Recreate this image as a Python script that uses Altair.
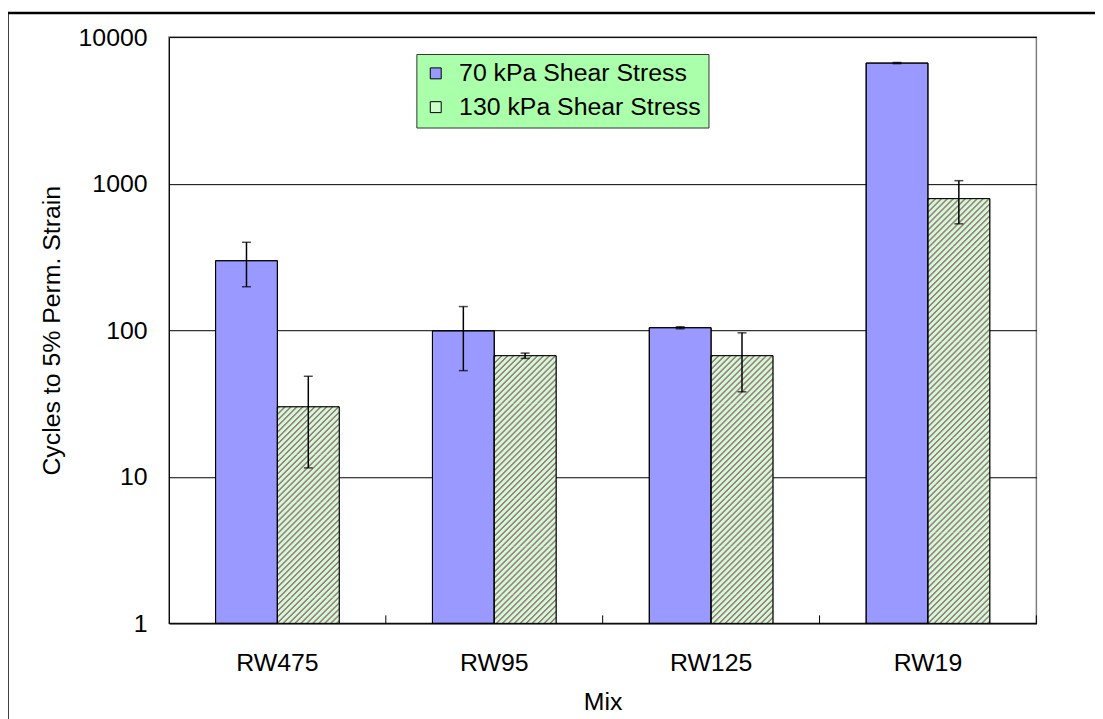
import altair as alt
import numpy as np
import pandas as pd

# ---------------- data ----------------
mixes = ["RW475", "RW95", "RW125", "RW19"]
series = ["70 kPa Shear Stress", "130 kPa Shear Stress"]
cycles_70 = [298, 99, 104, 6650]
err_70 = [100, 46, 1.5, 60]
cycles_130 = [30, 67, 67, 790]
err_130 = [18.5, 2.8, 29, 258]
y_ticks = [1, 10, 100, 1000, 10000]

rows = []
for i, m in enumerate(mixes):
    rows.append({"Mix": m, "Series": series[0], "Cycles": cycles_70[i], "Err": err_70[i]})
    rows.append({"Mix": m, "Series": series[1], "Cycles": cycles_130[i], "Err": err_130[i]})
df = pd.DataFrame(rows)
df["Lo"] = df["Cycles"] - df["Err"]
df["Hi"] = df["Cycles"] + df["Err"]

# ---------------- style / layout ----------------
FONT = "Liberation Sans, Arial, sans-serif"
FS = 25
BLUE = "#9999ff"
GREEN = "#ccffcc"
STRIPE = "#a67890"
W_PLOT, H_PLOT = 873, 590
PAD_IN, PAD_OUT = 0.43, 0.215
step = W_PLOT / (len(mixes) - PAD_IN + 2 * PAD_OUT)
BAR_W = step * (1 - PAD_IN) / 2
YTITLE = "Cycles to 5% Perm. Strain"
PERIOD = 6.0
RAMP, CORE = 1.0, 1.2
SEG_PX = 8 * PERIOD


def hatch(h, w=BAR_W, period=PERIOD):
    """Linear gradient giving soft-edged 45-degree stripes in a w x h rectangle."""
    L = w + h
    stops = []
    pos = 0.0
    marks = [0.0, RAMP, RAMP + CORE, 2 * RAMP + CORE, period]
    cols = [GREEN, STRIPE, STRIPE, GREEN, GREEN]
    while pos < L:
        for d, col in zip(marks, cols):
            stops.append({"offset": min(pos + d, L) / L, "color": col})
        pos += period
    s = w * w + h * h
    return {"gradient": "linear", "x1": 0, "y1": 0,
            "x2": w * L / s, "y2": h * L / s, "stops": stops}


# split each hatched bar into short pieces (whole number of stripe periods)
full_rows, rest_rows = [], []
for m, v in zip(mixes, cycles_130):
    H = H_PLOT * np.log10(v) / 4.0
    a = 0.0
    while a < H - 1e-9:
        b = min(a + SEG_PX, H)
        row = {"Mix": m, "Series": series[1],
               "Top": 10 ** (4 * (H - a) / H_PLOT),
               "Bot": 10 ** (4 * (H - b) / H_PLOT)}
        if b - a >= SEG_PX - 1e-9:
            full_rows.append(row)
        else:
            rest_rows.append((row, b - a))
        a = b

x_enc = alt.X(
    "Mix:N", sort=mixes,
    scale=alt.Scale(domain=mixes, paddingInner=PAD_IN, paddingOuter=PAD_OUT),
    axis=alt.Axis(title="Mix", labelAngle=0, ticks=False, grid=False,
                  labelBaseline="alphabetic", labelPadding=47,
                  titleY=87, titleBaseline="alphabetic"),
)
xoff_enc = alt.XOffset("Series:N", sort=series,
                       scale=alt.Scale(domain=series, paddingInner=0, paddingOuter=0))
y_scale = alt.Scale(type="log", domain=[1, 10000], nice=False)
y_axis = alt.Axis(values=y_ticks, format="d", grid=True, ticks=False,
                  labelPadding=22, title=YTITLE, titleAngle=270,
                  titleX=-110, titleY=H_PLOT / 2, titleAlign="center",
                  titleBaseline="alphabetic")

base = alt.Chart(df)

bars = base.mark_bar(stroke="black", strokeWidth=1).encode(
    x=x_enc,
    xOffset=xoff_enc,
    y=alt.Y("Cycles:Q", scale=y_scale, axis=y_axis),
    y2=alt.datum(1),
    fill=alt.Fill(
        "Series:N", sort=series,
        scale=alt.Scale(domain=series, range=[BLUE, GREEN]),
        legend=alt.Legend(
            title=None, orient="none", legendX=249, legendY=17,
            fillColor="#aaffaa", strokeColor="#333333", padding=7,
            symbolType="square", symbolSize=121, symbolStrokeColor="black",
            symbolStrokeWidth=1, symbolOpacity=1, labelFontSize=FS,
            labelFont=FONT, labelColor="black", rowPadding=8,
            labelOffset=11, labelLimit=500,
        ),
    ),
)


def hatch_layer(rows_, h):
    return alt.Chart(pd.DataFrame(rows_)).mark_bar(fill=hatch(h)).encode(
        x=x_enc, xOffset=xoff_enc,
        y=alt.Y("Top:Q", scale=y_scale, axis=y_axis),
        y2="Bot:Q",
    )


hatch_layers = [hatch_layer(full_rows, SEG_PX)]
for row, h in rest_rows:
    hatch_layers.append(hatch_layer([row], h))

outline = base.mark_bar(fill="transparent", stroke="black", strokeWidth=1).encode(
    x=x_enc, xOffset=xoff_enc,
    y=alt.Y("Cycles:Q", scale=y_scale, axis=y_axis),
    y2=alt.datum(1),
)

err_rule = base.mark_rule(color="black", strokeWidth=1.5).encode(
    x=x_enc, xOffset=xoff_enc,
    y=alt.Y("Lo:Q", scale=y_scale, axis=y_axis),
    y2="Hi:Q",
)
cap_lo = base.mark_tick(color="black", size=9, thickness=1.5).encode(
    x=x_enc, xOffset=xoff_enc,
    y=alt.Y("Lo:Q", scale=y_scale, axis=y_axis),
)
cap_hi = base.mark_tick(color="black", size=9, thickness=1.5).encode(
    x=x_enc, xOffset=xoff_enc,
    y=alt.Y("Hi:Q", scale=y_scale, axis=y_axis),
)

main = alt.layer(bars, *hatch_layers, outline, err_rule, cap_lo, cap_hi)

# inward category-boundary ticks on the x axis
tick_df = pd.DataFrame({"Mix": mixes})
xticks = alt.Chart(tick_df).mark_rule(color="black", strokeWidth=1).encode(
    x=alt.X("Mix:N", sort=mixes, bandPosition=1,
            scale=alt.Scale(domain=mixes, paddingInner=0, paddingOuter=0),
            axis=None),
    y=alt.value(H_PLOT - 8),
    y2=alt.value(H_PLOT),
)

# outer chart-area frame
frame = alt.Chart(pd.DataFrame({"k": [0]})).mark_rect(
    fill="transparent", stroke="black", strokeWidth=2.5
).encode(
    x=alt.value(-162.5), x2=alt.value(1100),
    y=alt.value(-24.25), y2=alt.value(800),
)

chart = alt.layer(main, xticks, frame).resolve_scale(x="independent").properties(
    width=W_PLOT, height=H_PLOT,
    autosize=alt.AutoSizeParams(type="none"),
    padding={"left": 162, "top": 27, "right": 1094 - 162 - W_PLOT, "bottom": 711 - 27 - H_PLOT},
).configure(
    font=FONT,
).configure_view(
    stroke="#808080", strokeWidth=1.5,
).configure_axis(
    labelFont=FONT, titleFont=FONT, labelFontSize=FS, titleFontSize=FS,
    labelColor="black", titleColor="black", titleFontWeight="normal",
    gridColor="black", gridWidth=1, gridOpacity=1,
    domainColor="black", domainWidth=1,
)

chart.save("out.html", embed_options={"renderer": "svg", "actions": False})
